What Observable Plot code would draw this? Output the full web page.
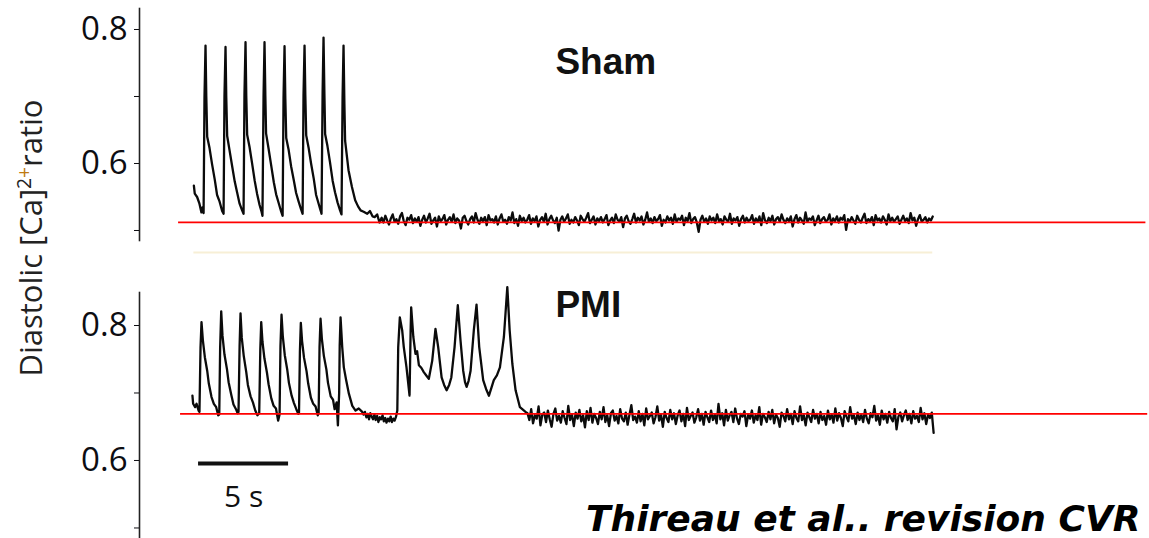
<!DOCTYPE html>
<html><head><meta charset="utf-8">
<script src="https://cdn.jsdelivr.net/npm/d3@7"></script>
<script src="https://cdn.jsdelivr.net/npm/@observablehq/plot@0.6"></script>
<style>
html,body{margin:0;padding:0;background:#fff;}
#wrap{position:relative;width:1149px;height:538px;overflow:hidden;background:#fff;}
#topPanel{position:absolute;left:0;top:0;}
#botPanel{position:absolute;left:0;top:270px;}
#ylab{position:absolute;left:30px;top:238px;transform:translate(-50%,-50%) rotate(-90deg);white-space:nowrap;font-family:"Open Sans",sans-serif;font-size:31px;color:#222;line-height:1;}
#ylab .sup{font-size:0.62em;position:relative;top:-0.55em;}
</style></head><body>
<div id="wrap"><div id="topPanel"></div><div id="botPanel"></div>
<div id="ylab">Diastolic [Ca]<span class="sup">2<span style="color:#c07a10">+</span></span>ratio</div></div>
<script>
// ---------- DATA ----------
// time in seconds, value = Diastolic [Ca]2+ ratio
const yTicks = [0.5, 0.6, 0.7, 0.8];
const yTickLabels = {0.6: "0.6", 0.8: "0.8"};
const panelTitles = ["Sham", "PMI"];
const scaleBarSeconds = [3.28, 8.28];
const scaleBarLabel = "5 s";
const caption = "Thireau et al.. revision CVR";
const shamBaseline = 0.512;   // red reference line (Sham)
const pmiBaseline = 0.669;    // red reference line (PMI)

// Sham: paced transients (t, ratio)
const shamActive = [
  [3.02,0.567],[3.07,0.555],[3.20,0.550],[3.33,0.540],[3.44,0.527],[3.51,0.535],[3.56,0.526],
  [3.61,0.699],[3.667,0.776],[3.71,0.700],[3.76,0.640],[3.89,0.623],[4.03,0.599],[4.18,0.576],[4.31,0.553],[4.45,0.543],[4.59,0.529],[4.67,0.525],
  [4.72,0.701],[4.778,0.774],[4.82,0.698],[4.87,0.641],[5.00,0.620],[5.14,0.597],[5.29,0.573],[5.42,0.557],[5.56,0.540],[5.70,0.530],[5.78,0.525],
  [5.83,0.703],[5.889,0.781],[5.93,0.702],[5.98,0.643],[6.11,0.625],[6.25,0.601],[6.40,0.574],[6.53,0.555],[6.67,0.538],[6.77,0.529],[6.83,0.522],
  [6.89,0.700],[6.944,0.781],[6.99,0.701],[7.03,0.645],[7.17,0.622],[7.31,0.598],[7.46,0.572],[7.59,0.554],[7.73,0.541],[7.87,0.528],[7.95,0.522],
  [8.00,0.698],[8.056,0.775],[8.10,0.697],[8.15,0.638],[8.28,0.621],[8.42,0.596],[8.57,0.575],[8.70,0.556],[8.84,0.543],[8.98,0.531],[9.06,0.525],
  [9.11,0.702],[9.167,0.776],[9.21,0.703],[9.26,0.642],[9.39,0.624],[9.53,0.600],[9.68,0.577],[9.81,0.553],[9.95,0.540],[10.07,0.529],[10.11,0.525],
  [10.17,0.705],[10.222,0.788],[10.27,0.704],[10.31,0.644],[10.44,0.626],[10.58,0.602],[10.73,0.574],[10.86,0.557],[11.00,0.542],[11.14,0.530],[11.22,0.524],
  [11.28,0.700],[11.333,0.776],[11.38,0.690],[11.42,0.634],[11.61,0.590],[11.80,0.565],[11.98,0.545],[12.14,0.536],[12.28,0.530],[12.45,0.528],
  [12.65,0.525],[12.80,0.529],[12.95,0.521],[13.06,0.520],[13.20,0.524],[13.33,0.512]
];
// Sham: resting noise (ratio x 1000), evenly sampled from shamRestSpan[0] to shamRestSpan[1] s
const shamRestSpan = [13.45, 44.06];
const shamRest = [
  519,512,522,515,509,518,524,513,517,510,521,526,514,508,519,516,523,511,518,513,
  520,507,516,522,512,518,525,510,515,519,506,521,514,517,523,509,516,520,513,524,
  511,518,515,503,519,522,514,509,517,521,512,526,516,510,519,514,520,508,523,515,
  517,512,521,509,518,524,513,516,510,520,515,527,511,517,507,522,514,519,512,516,
  523,510,518,514,521,506,516,520,513,525,509,517,522,515,511,519,500,516,521,513,
  518,524,510,516,512,520,515,508,522,517,513,519,526,511,516,521,509,518,514,520,
  512,517,523,508,515,519,511,524,516,513,520,505,518,522,514,510,517,525,512,519,
  515,521,509,516,527,513,518,511,520,514,517,523,507,516,512,521,515,519,510,524,
  513,518,516,522,508,519,514,526,511,517,520,512,498,516,522,513,518,510,521,515,
  519,511,524,514,517,509,521,516,513,525,510,518,515,520,507,517,522,512,519,514,
  516,523,510,518,513,521,508,526,515,511,519,514,522,509,517,520,513,524,516,511,
  518,514,521,506,517,523,512,519,515,510,527,513,518,516,521,508,515,522,511,517,
  520,513,516,524,509,518,514,521,512,519,516,523,501,517,513,520,515,510,522,516,
  512,519,525,511,517,514,520,508,523,515,518,512,521,516,509,524,514,519,513,517,
  521,510,516,522,514,518,511,526,515,519,507,517,523,513,516,520,512,518,515,521
];

// PMI: paced transients, pause, spontaneous release burst (t, ratio)
const pmiActive = [
  [2.94,0.696],[2.98,0.684],[3.09,0.679],[3.17,0.684],[3.28,0.674],[3.33,0.672],
  [3.39,0.768],[3.444,0.805],[3.52,0.778],[3.63,0.753],[3.76,0.733],[3.85,0.714],[4.00,0.694],[4.13,0.684],[4.26,0.679],[4.37,0.667],[4.43,0.668],
  [4.48,0.768],[4.539,0.821],[4.61,0.785],[4.72,0.757],[4.86,0.735],[4.95,0.716],[5.10,0.697],[5.22,0.683],[5.36,0.676],[5.45,0.670],[5.50,0.672],
  [5.56,0.770],[5.611,0.818],[5.68,0.782],[5.79,0.755],[5.93,0.731],[6.02,0.712],[6.17,0.695],[6.30,0.686],[6.43,0.674],[6.55,0.667],[6.65,0.670],
  [6.71,0.765],[6.761,0.805],[6.83,0.776],[6.94,0.751],[7.08,0.730],[7.17,0.713],[7.32,0.692],[7.45,0.681],[7.58,0.677],[7.70,0.659],[7.78,0.668],
  [7.83,0.770],[7.889,0.816],[7.96,0.784],[8.07,0.756],[8.21,0.734],[8.30,0.715],[8.45,0.696],[8.58,0.685],[8.71,0.676],[8.82,0.669],[8.86,0.671],
  [8.91,0.762],[8.961,0.804],[9.03,0.777],[9.14,0.752],[9.28,0.732],[9.37,0.714],[9.52,0.693],[9.65,0.684],[9.78,0.680],[9.90,0.667],[9.95,0.670],
  [10.00,0.768],[10.056,0.810],[10.13,0.780],[10.24,0.755],[10.38,0.735],[10.47,0.715],[10.62,0.695],[10.75,0.690],[10.84,0.676],[10.95,0.686],[11.02,0.652],[11.09,0.700],
  [11.12,0.770],[11.167,0.812],[11.26,0.768],[11.35,0.738],[11.48,0.719],[11.63,0.699],[11.82,0.681],[12.00,0.674],[12.18,0.677],[12.37,0.672],
  [12.45,0.668],[12.52,0.672],[12.60,0.664],[12.67,0.669],[12.75,0.661],[12.82,0.670],[12.90,0.665],[12.97,0.661],[13.05,0.668],[13.12,0.660],
  [13.20,0.666],[13.27,0.657],[13.35,0.664],[13.42,0.661],[13.50,0.667],[13.57,0.658],[13.65,0.663],[13.72,0.656],[13.80,0.662],[13.87,0.658],
  [13.95,0.665],[14.02,0.657],[14.10,0.662],[14.17,0.659],[14.25,0.665],
  [14.32,0.674],[14.37,0.768],[14.46,0.812],[14.59,0.793],[14.68,0.768],[14.83,0.738],[15.00,0.696],[15.06,0.793],[15.09,0.827],
  [15.21,0.783],[15.33,0.758],[15.42,0.762],[15.52,0.741],[15.66,0.737],[15.79,0.731],[15.93,0.726],[16.07,0.721],[16.26,0.748],[16.44,0.795],
  [16.59,0.768],[16.78,0.723],[16.92,0.712],[17.06,0.704],[17.20,0.712],[17.32,0.723],[17.50,0.768],[17.68,0.830],[17.83,0.778],[17.98,0.733],
  [18.08,0.716],[18.17,0.709],[18.28,0.718],[18.39,0.733],[18.57,0.793],[18.72,0.831],[18.87,0.768],[19.09,0.719],[19.25,0.706],[19.41,0.696],
  [19.55,0.708],[19.68,0.719],[19.85,0.726],[20.02,0.738],[20.24,0.783],[20.43,0.857],[20.56,0.793],[20.71,0.743],[20.89,0.704],[21.13,0.679],[21.44,0.672]
];
// PMI: resting noise (ratio x 1000), evenly sampled from pmiRestSpan[0] to pmiRestSpan[1] s
const pmiRestSpan = [21.55, 44.11];
const pmiRest = [
  670,660,676,655,667,662,680,652,668,671,657,674,661,650,669,677,659,666,656,673,
  663,654,681,660,668,651,671,662,675,658,667,649,673,660,678,656,669,663,654,672,
  661,679,657,667,651,670,674,659,666,655,676,662,658,671,653,668,682,660,665,656,
  673,658,669,652,677,661,666,671,655,664,680,659,668,650,672,663,657,675,661,670,
  654,667,674,658,669,651,678,660,666,671,656,664,676,659,669,653,672,664,657,674,
  660,668,655,684,661,670,652,675,659,667,672,657,677,662,654,669,665,673,651,668,
  662,674,656,667,660,679,653,669,664,657,672,661,675,655,668,663,650,671,666,658,
  676,661,669,654,673,663,658,680,660,667,652,671,664,657,675,662,669,655,672,660,
  666,653,674,661,668,656,677,659,670,663,651,673,665,658,679,662,667,654,671,660,
  668,657,675,662,655,670,664,681,659,667,653,674,661,669,656,672,663,658,676,646,
  665,671,658,667,674,660,669,655,673,662,666,657,678,661,670,654,668,663,671,641
];

// ---------- BUILD ----------
const toRows = (active, rest, span) => {
  const step = (span[1] - span[0]) / (rest.length - 1);
  return active.map(([t, v]) => ({t, v}))
    .concat(rest.map((r, i) => ({t: span[0] + i * step, v: r / 1000})));
};
const shamRows = toRows(shamActive, shamRest, shamRestSpan);
const pmiRows = toRows(pmiActive, pmiRest, pmiRestSpan);

const shamSpan = [d3.min(shamRows, d => d.t), d3.max(shamRows, d => d.t)];
const W = 1149, AX = 139;
const xDom = [0, 56.1];
const tickFmt = d => yTickLabels[d] ?? "";
const axisOpts = {ticks: yTicks, tickFormat: tickFmt, tickSize: 5, tickPadding: 7, label: null,
  fontSize: 33, fontFamily: "Open Sans", color: "#0d0d12"};
const traceStyle = {x: "t", y: "v", stroke: "#0b0b0b", strokeWidth: 2.3, strokeLinejoin: "round"};

const topChart = Plot.plot({
  width: W, height: 270, marginLeft: AX, marginRight: 0, marginTop: 8, marginBottom: 30,
  x: {domain: xDom, axis: null},
  y: {domain: [0.48507, 0.83134], axis: null},
  marks: [
    Plot.frame({anchor: "left", stroke: "#222", strokeWidth: 1.6}),
    Plot.axisY(axisOpts),
    Plot.ruleY([0.467], {x1: shamSpan[0], x2: shamSpan[1], stroke: "#f7efd6", strokeWidth: 2}),
    Plot.line(shamRows, traceStyle),
    Plot.ruleY([shamBaseline], {x1: 2.17, x2: 55.9, stroke: "#ff0000", strokeWidth: 1.7}),
    Plot.text([panelTitles[0]], {x: 23.1, y: 0.751, text: d => d, textAnchor: "start",
      fontSize: 37, fontWeight: "bold", fontFamily: "Liberation Sans", fill: "#111"})
  ]
});
document.getElementById("topPanel").appendChild(topChart);

const botChart = Plot.plot({
  width: W, height: 268, marginLeft: AX, marginRight: 0, marginTop: 22, marginBottom: 0,
  x: {domain: xDom, axis: null},
  y: {domain: [0.4844, 0.8489], axis: null},
  marks: [
    Plot.frame({anchor: "left", stroke: "#222", strokeWidth: 1.6}),
    Plot.axisY(axisOpts),
    Plot.line(pmiRows, traceStyle),
    Plot.ruleY([pmiBaseline], {x1: 2.28, x2: 56.0, stroke: "#ff0000", strokeWidth: 1.7}),
    Plot.ruleY([0.5956], {x1: scaleBarSeconds[0], x2: scaleBarSeconds[1], stroke: "#111", strokeWidth: 4}),
    Plot.text([scaleBarLabel], {x: (scaleBarSeconds[0] + scaleBarSeconds[1]) / 2, y: 0.5452, text: d => d,
      fontSize: 30, fontFamily: "Open Sans", fill: "#111"}),
    Plot.text([panelTitles[1]], {x: 23.1, y: 0.8296, text: d => d, textAnchor: "start",
      fontSize: 37, fontWeight: "bold", fontFamily: "Liberation Sans", fill: "#111"}),
    Plot.text([caption], {x: 55.6, y: 0.5126, text: d => d, textAnchor: "end",
      fontSize: 36, fontWeight: "bold", fontStyle: "italic", fontFamily: "DejaVu Sans", fill: "#000"})
  ]
});
document.getElementById("botPanel").appendChild(botChart);
</script>
</body></html>
